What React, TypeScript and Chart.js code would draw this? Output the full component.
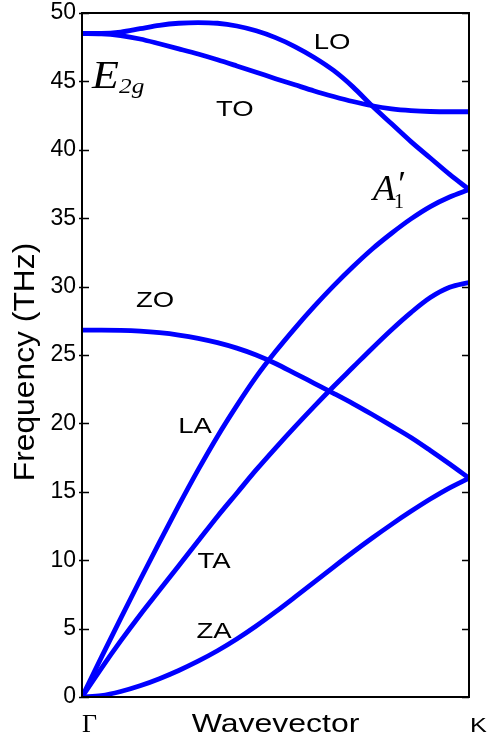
import React, { useEffect, useRef } from "react";
import { Chart, registerables } from "chart.js";

Chart.register(...registerables);

// Wavevector from Γ (0) to K (1)
const wavevector = [0, 0.05, 0.1, 0.15, 0.2, 0.25, 0.3, 0.35, 0.4, 0.45, 0.5, 0.55, 0.6, 0.65, 0.7, 0.75, 0.8, 0.85, 0.9, 0.95, 1];

// Frequencies (THz)
const LO = [48.5, 48.5, 48.6, 48.85, 49.1, 49.25, 49.3, 49.25, 49.05, 48.7, 48.2, 47.55, 46.75, 45.8, 44.6, 43.2, 41.9, 40.6, 39.4, 38.2, 37.1];
const TO = [48.5, 48.48, 48.35, 48.1, 47.75, 47.38, 47.0, 46.58, 46.13, 45.67, 45.2, 44.75, 44.3, 43.9, 43.53, 43.22, 43.0, 42.87, 42.8, 42.78, 42.78];
const ZO = [26.82, 26.82, 26.8, 26.74, 26.63, 26.46, 26.22, 25.9, 25.5, 25.0, 24.38, 23.66, 22.93, 22.2, 21.45, 20.65, 19.82, 18.97, 18.02, 17.03, 16.0];
const LA = [0, 2.9, 5.75, 8.55, 11.3, 14.0, 16.6, 19.05, 21.3, 23.4, 25.25, 26.95, 28.55, 30.05, 31.45, 32.75, 33.9, 34.95, 35.85, 36.55, 37.1];
const TA = [0, 2.1, 4.1, 6.0, 7.8, 9.6, 11.4, 13.2, 14.9, 16.6, 18.2, 19.75, 21.25, 22.7, 24.1, 25.5, 26.85, 28.1, 29.2, 29.95, 30.3];
const ZA = [0, 0.1, 0.4, 0.82, 1.34, 1.94, 2.62, 3.38, 4.24, 5.19, 6.22, 7.3, 8.4, 9.5, 10.58, 11.62, 12.62, 13.57, 14.47, 15.29, 16.0];

const seriesNames = ["LO", "TO", "ZO", "LA", "TA", "ZA"];
const seriesValues = [LO, TO, ZO, LA, TA, ZA];

// Branch labels: [text, wavevector, frequency]
const branchLabels: [string, number, number][] = [
  ["LO", 0.646, 47.4],
  ["TO", 0.395, 42.5],
  ["ZO", 0.189, 28.5],
  ["LA", 0.292, 19.3],
  ["TA", 0.341, 9.4],
  ["ZA", 0.341, 4.3],
];

const yTicks = { min: 0, max: 50, step: 5 };
const yTitle = "Frequency (THz)";
const xTitle = "Wavevector";
const xStart = "Γ";
const xEnd = "K";

const SANS = "'Liberation Sans', Arial, sans-serif";
const SERIF = "'Liberation Serif', 'Times New Roman', serif";

function drawText(
  ctx: CanvasRenderingContext2D,
  text: string,
  x: number,
  y: number,
  font: string,
  sx: number,
  align: CanvasTextAlign
) {
  ctx.save();
  ctx.font = font;
  ctx.textAlign = align;
  ctx.textBaseline = "alphabetic";
  ctx.fillStyle = "#000";
  ctx.translate(x, y);
  ctx.scale(sx, 1);
  ctx.fillText(text, 0, 0);
  ctx.restore();
}

const decorPlugin = {
  id: "decor",
  afterDatasetsDraw(chart: any) {
    const { ctx, chartArea, scales } = chart;
    const xs = scales.x;
    const ys = scales.y;
    const { left, right, top, bottom } = chartArea;

    // frame
    ctx.save();
    ctx.strokeStyle = "#000";
    ctx.lineWidth = 2;
    ctx.strokeRect(left, top, right - left, bottom - top);
    // inward ticks on left & right
    ctx.lineWidth = 1.5;
    for (let v = yTicks.min; v <= yTicks.max; v += yTicks.step) {
      const py = Math.round(ys.getPixelForValue(v)) + 0.5;
      ctx.beginPath();
      ctx.moveTo(left - 3, py);
      ctx.lineTo(left + 7, py);
      ctx.moveTo(right - 7, py);
      ctx.lineTo(right, py);
      ctx.stroke();
    }
    ctx.restore();

    // branch labels
    for (const [t, fx, fy] of branchLabels) {
      drawText(ctx, t, xs.getPixelForValue(fx), ys.getPixelForValue(fy), `22px ${SANS}`, 1.25, "center");
    }

    // E_2g
    {
      const ex = xs.getPixelForValue(0.026);
      const ey = ys.getPixelForValue(44.5);
      drawText(ctx, "E", ex, ey, `italic 40px ${SERIF}`, 1.1, "left");
      drawText(ctx, "2g", ex + 27, ey + 5, `italic 22px ${SERIF}`, 1.15, "left");
    }
    // A'_1
    {
      const ax = xs.getPixelForValue(0.752);
      const ay = ys.getPixelForValue(36.3);
      drawText(ctx, "A", ax, ay, `italic 35px ${SERIF}`, 1.05, "left");
      drawText(ctx, "′", ax + 23, ay - 4, `italic 36px ${SERIF}`, 1, "left");
      drawText(ctx, "1", ax + 21, ay + 8, `20px ${SERIF}`, 1, "left");
    }

    // x-axis labels
    drawText(ctx, xStart, left, bottom + 35, `26px ${SERIF}`, 1, "left");
    drawText(ctx, xEnd, right + 1, bottom + 35, `21px ${SANS}`, 1.2, "left");
    drawText(ctx, xTitle, (left + right) / 2, bottom + 35, `26px ${SANS}`, 1.23, "center");

    // y-axis title
    ctx.save();
    ctx.translate(34, (top + bottom) / 2 + 7);
    ctx.rotate(-Math.PI / 2);
    ctx.font = `30px ${SANS}`;
    ctx.textAlign = "center";
    ctx.textBaseline = "alphabetic";
    ctx.fillStyle = "#000";
    ctx.scale(1.06, 1);
    ctx.fillText(yTitle, 0, 0);
    ctx.restore();
  },
};

export default function App() {
  const canvasRef = useRef<HTMLCanvasElement | null>(null);

  useEffect(() => {
    if (!canvasRef.current) return;
    const datasets = seriesNames.map((name, i) => ({
      label: name,
      data: wavevector.map((x, j) => ({ x, y: seriesValues[i][j] })),
      borderColor: "#0000ff",
      backgroundColor: "#0000ff",
      borderWidth: 4.8,
      pointRadius: 0,
      fill: false,
      cubicInterpolationMode: "monotone" as const,
    }));

    const chart = new Chart(canvasRef.current, {
      type: "line",
      data: { datasets },
      options: {
        animation: false,
        responsive: false,
        maintainAspectRatio: false,
        layout: { padding: { left: 0, right: 21, top: 13, bottom: 43 } },
        plugins: {
          legend: { display: false },
          tooltip: { enabled: false },
        },
        scales: {
          x: {
            type: "linear",
            min: 0,
            max: 1,
            display: false,
          },
          y: {
            type: "linear",
            min: yTicks.min,
            max: yTicks.max,
            afterFit: (scale: any) => {
              scale.width = 82;
              scale.paddingTop = 0;
              scale.paddingBottom = 0;
            },
            ticks: {
              stepSize: yTicks.step,
              color: "#000",
              font: { family: SANS, size: 23 },
              padding: 6,
            },
            grid: { display: false, drawTicks: false },
            border: { display: false },
          },
        },
      },
      plugins: [decorPlugin],
    });
    return () => chart.destroy();
  }, []);

  return (
    <div style={{ position: "absolute", left: 0, top: 0, width: 490, height: 740, background: "#fff" }}>
      <canvas ref={canvasRef} width={490} height={740} style={{ width: 490, height: 740 }} />
    </div>
  );
}
